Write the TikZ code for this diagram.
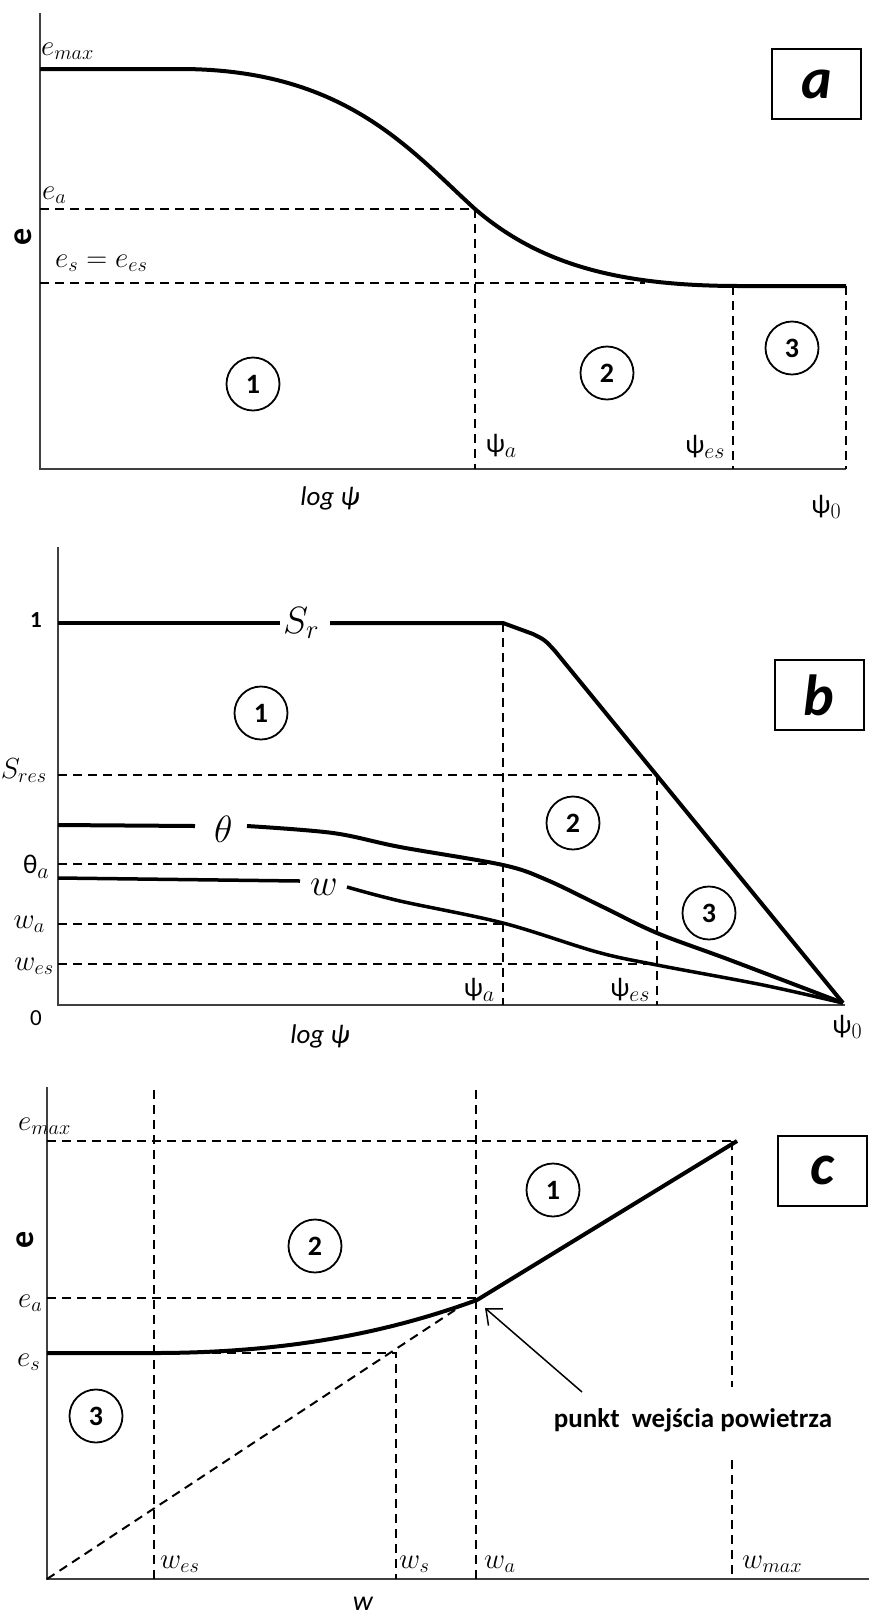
\RequirePackage{fix-cm}
\documentclass[tikz,border=0pt]{standalone}
\usepackage{fontspec}
\newfontfamily\calib{Carlito}
\usetikzlibrary{arrows.meta}
\newcommand\gsub[2]{{\calib #1}\raisebox{-5pt}{\fontsize{22}{22}\selectfont$#2$}}
\tikzset{
 axisline/.style={draw=black!75, line width=1.5pt},
 dsh/.style={line width=2pt, dash pattern=on 9pt off 6pt},
 thick curve/.style={line width=4pt, line join=round},
 zone/.style={circle, draw, line width=1.8pt, minimum size=53pt, inner sep=0pt, font=\calib\bfseries\fontsize{28}{28}\selectfont},
 tag/.style={draw, line width=2pt, minimum width=89pt, minimum height=70pt, inner sep=0pt, font=\calib\bfseries\itshape\fontsize{58}{58}\selectfont},
 lbl/.style={inner sep=0pt, font=\fontsize{29}{30}\selectfont},
 big/.style={inner sep=0pt, font=\fontsize{38}{40}\selectfont},
 sans/.style={inner sep=0pt, font=\calib\fontsize{27}{28}\selectfont},
 axlbl/.style={inner sep=0pt, rotate=90, font=\calib\bfseries\fontsize{34}{34}\selectfont},
}
\begin{document}
\begin{tikzpicture}[x=1pt,y=-1pt]
\useasboundingbox (0,0) rectangle (869,1618);
% ================= panel a =================
\coordinate (aT) at (40,13);
\coordinate (aO) at (40,469);
\coordinate (aR) at (846,469);
\draw[axisline] (aT) -- (aO) -- (aR);
\coordinate (aP0) at (40,69);
\coordinate (aP1) at (180,69);
\coordinate (aA) at (475,209);
\coordinate (aS) at (740,286);
\coordinate (aE) at (846,286);
\coordinate (aEaL) at (40,209);
\coordinate (aEsL) at (40,283);
\coordinate (aEsR) at (645,283);
\coordinate (aAB) at (475,469);
\coordinate (aES) at (733,286);
\coordinate (aESB) at (733,469);
\draw[dsh] (aEaL) -- (aA);
\draw[dsh] (aEsL) -- (aEsR);
\draw[dsh] (aA) -- (aAB);
\draw[dsh] (aES) -- (aESB);
\draw[dsh] (aE) -- (aR);
\draw[thick curve] (aP0) -- (aP1) .. controls (345,69) and (410,150) .. (aA) .. controls (540,265) and (620,286) .. (aS) -- (aE);
\node[lbl, anchor=base west] (aemax) at (41,55) {$e_{max}$};
\node[lbl, anchor=base west] (aea) at (42,199) {$e_a$};
\node[lbl, anchor=base west] (aes) at (55,267) {$e_s=e_{es}$};
\node[axlbl] (ae) at (23,237) {e};
\node[sans] (apsia) at (501,446) {\gsub{ψ}{a}};
\node[sans] (apsies) at (705,447) {\gsub{ψ}{es}};
\node[sans] (apsi0) at (826,507) {\gsub{ψ}{0}};
\node[sans, font=\calib\itshape\fontsize{27}{28}\selectfont] (alog) at (330,498) {log ψ};
\node[zone] (a1) at (253,384) {1};
\node[zone] (a2) at (607,373) {2};
\node[zone] (a3) at (792,348) {3};
\node[tag] (atag) at (816.5,84) {a};
% ================= panel b =================
\coordinate (bT) at (58,547);
\coordinate (bO) at (58,1005);
\coordinate (bR) at (845,1005);
\draw[axisline] (bT) -- (bO) -- (bR);
\coordinate (bEnd) at (843,1003);
\coordinate (bSr0) at (58,623);
\coordinate (bSr1) at (280,623);
\coordinate (bSr2) at (330,623);
\coordinate (bSrA) at (503,623);
\coordinate (bSrK) at (555,651);
\draw[thick curve] (bSr0) -- (bSr1);
\draw[thick curve] (bSr2) -- (bSrA) -- (533,634) .. controls (545,640) .. (bSrK) -- (bEnd);
\coordinate (bTh0) at (58,825);
\coordinate (bTh1) at (195,826);
\draw[thick curve] (bTh0) -- (bTh1);
\draw[thick curve] plot[smooth, tension=0.55] coordinates {(247,826) (333,833) (400,847) (503,865) (547,880) (603,907) (657,933) (730,960) (843,1003)};
\coordinate (bW0) at (58,878);
\coordinate (bW1) at (300,881);
\draw[line width=3.5pt] (bW0) -- (bW1);
\draw[line width=3.5pt, line join=round] plot[smooth, tension=0.55] coordinates {(347,887) (400,901) (503,923) (597,952) (657,965) (763,985) (843,1003)};
\coordinate (bResL) at (58,775);
\coordinate (bResR) at (657,775);
\coordinate (bThaL) at (58,864);
\coordinate (bThaR) at (503,864);
\coordinate (bWaL) at (58,924);
\coordinate (bWaR) at (503,924);
\coordinate (bWesL) at (58,964);
\coordinate (bWesR) at (657,964);
\coordinate (bAB) at (503,1005);
\coordinate (bESB) at (657,1005);
\draw[dsh] (bResL) -- (bResR) -- (bESB);
\draw[dsh] (bThaL) -- (bThaR);
\draw[dsh] (bWaL) -- (bWaR);
\draw[dsh] (bWesL) -- (bWesR);
\draw[dsh] (bSrA) -- (bAB);
\node[inner sep=0pt, font=\calib\bfseries\fontsize{23}{23}\selectfont] (b1lab) at (36,620) {1};
\node[inner sep=0pt, font=\calib\fontsize{23}{23}\selectfont] (b0lab) at (36,1018) {0};
\node[big, anchor=base west] (bSr) at (283,633) {$S_r$};
\node[big, anchor=base west] (bth) at (214,842) {$\theta$};
\node[big, anchor=base west] (bw) at (310,895) {$w$};
\node[lbl, anchor=base east] (bres) at (47,778) {$S_{res}$};
\node[sans, anchor=base east] (btha) at (49,873) {\gsub{θ}{a}};
\node[lbl, anchor=base east] (bwa) at (45,928) {$w_a$};
\node[lbl, anchor=base east] (bwes) at (54,970) {$w_{es}$};
\node[sans] (bpsia) at (479,990) {\gsub{ψ}{a}};
\node[sans] (bpsies) at (630,990) {\gsub{ψ}{es}};
\node[sans] (bpsi0) at (847,1027) {\gsub{ψ}{0}};
\node[sans, font=\calib\itshape\fontsize{27}{28}\selectfont] (blog) at (320,1036) {log ψ};
\node[zone] (b1) at (261,713) {1};
\node[zone] (b2) at (573,823) {2};
\node[zone] (b3) at (709,913) {3};
\node[tag] (btag) at (819,695) {b};
% ================= panel c =================
\coordinate (cT) at (47,1087);
\coordinate (cO) at (47,1579);
\coordinate (cR) at (869,1579);
\draw[axisline] (cT) -- (cO) -- (cR);
\coordinate (cMaxL) at (47,1141);
\coordinate (cMax) at (737,1141);
\coordinate (cEaL) at (47,1298);
\coordinate (cEaR) at (476,1298);
\coordinate (cEsL) at (47,1353);
\coordinate (cEsR) at (396,1353);
\coordinate (cWesT) at (154,1090);
\coordinate (cWesB) at (154,1579);
\coordinate (cWsB) at (396,1579);
\coordinate (cWaT) at (476,1090);
\coordinate (cWaB) at (476,1579);
\coordinate (cWmT) at (732,1141);
\coordinate (cWm1) at (732,1387);
\coordinate (cWm2) at (732,1460);
\coordinate (cWmB) at (732,1579);
\coordinate (cDiag) at (455,1310);
\draw[dsh] (cMaxL) -- (cMax);
\draw[dsh] (cEaL) -- (cEaR);
\draw[dsh] (cEsL) -- (cEsR) -- (cWsB);
\draw[dsh] (cWesT) -- (cWesB);
\draw[dsh] (cWaT) -- (cWaB);
\draw[dsh] (cWmT) -- (cWm1);
\draw[dsh] (cWm2) -- (cWmB);
\draw[dsh] (cO) -- (cDiag);
\coordinate (cC0) at (47,1353);
\coordinate (cC1) at (154,1353);
\coordinate (cCa) at (477,1300);
\draw[thick curve] (cC0) -- (cC1) .. controls (300,1353) and (400,1328) .. (cCa) -- (cMax);
\node[lbl, anchor=base west] (cemax) at (18,1130) {$e_{max}$};
\node[lbl, anchor=base west] (cea) at (18,1307) {$e_a$};
\node[lbl, anchor=base west] (ces) at (17,1366) {$e_s$};
\node[axlbl] (ce) at (25,1240) {e};
\node[lbl, anchor=base west] (cwes) at (160,1568) {$w_{es}$};
\node[lbl, anchor=base west] (cws) at (399,1568) {$w_s$};
\node[lbl, anchor=base west] (cwa) at (484,1568) {$w_a$};
\node[lbl, anchor=base west] (cwmax) at (742,1568) {$w_{max}$};
\node[sans, font=\calib\itshape\fontsize{28}{28}\selectfont] (cw) at (363,1604) {w};
\node[zone] (c1) at (553,1190) {1};
\node[zone] (c2) at (315,1246) {2};
\node[zone] (c3) at (96,1416) {3};
\node[tag] (ctag) at (822,1170.5) {c};
\node[inner sep=0pt, font=\calib\bfseries\fontsize{27}{28}\selectfont] (cpunkt) at (693,1420) {punkt\ \ wejścia powietrza};
\coordinate (arrS) at (582,1392);
\coordinate (arrT) at (485,1308);
\draw[line width=1.5pt, -{Straight Barb[length=13pt,width=22pt]}] (arrS) -- (arrT);
\end{tikzpicture}
\end{document}
